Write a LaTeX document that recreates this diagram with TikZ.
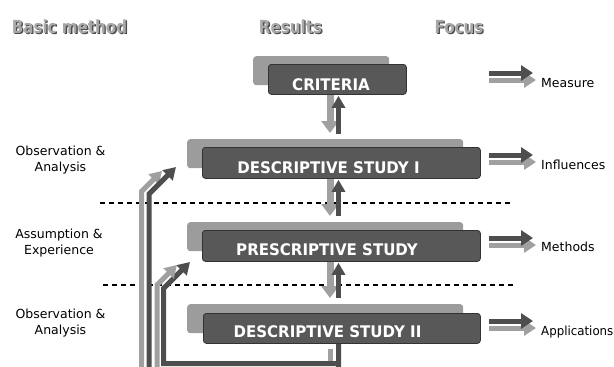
\documentclass[tikz,border=0pt]{standalone}
\usepackage{fontspec}
\setmainfont{DejaVu Sans}
\usetikzlibrary{arrows.meta,calc}
\definecolor{boxdark}{HTML}{585858}
\definecolor{boxlight}{HTML}{9C9C9C}
\definecolor{arrdark}{HTML}{4E4E4E}
\definecolor{arrlight}{HTML}{A0A0A0}
\definecolor{hdrgray}{HTML}{A8A8A8}
\definecolor{hdrshade}{HTML}{4A4A4A}
\begin{document}
\begin{tikzpicture}[x=1pt,y=-1pt,
  lightbox/.style={fill=boxlight, rounded corners=3pt, anchor=north west, inner sep=0pt},
  darkbox/.style={fill=boxdark, draw=black!80, line width=0.8pt, rounded corners=3pt, anchor=north west, inner sep=0pt},
  boxtext/.style={text=white, font=\fontsize{16}{18}\selectfont\bfseries, inner sep=0pt, anchor=base},
  hdr/.style={text=hdrgray, font=\fontsize{18}{20}\selectfont\bfseries, inner sep=0pt, anchor=base},
  hdrsh/.style={text=hdrshade, font=\fontsize{18}{20}\selectfont\bfseries, inner sep=0pt, anchor=base},
  sidelabel/.style={font=\fontsize{12.5}{16}\selectfont, align=center, inner sep=0pt, text=black},
  focuslabel/.style={font=\fontsize{12.5}{16}\selectfont, inner sep=0pt, anchor=base west, text=black},
  sep/.style={draw=black, line width=1.3pt, dash pattern=on 5pt off 4pt},
  downarr/.style={draw=arrlight, line width=7pt, -{Triangle[length=12pt,width=17pt]}},
  uparr/.style={draw=arrdark, line width=5.5pt, -{Triangle[length=12pt,width=13pt]}},
  lightline/.style={draw=arrlight, line width=5pt},
  darkline/.style={draw=arrdark, line width=5pt},
  lighthead/.style={lightline, -{Triangle[length=12pt,width=14pt]}},
  darkhead/.style={darkline, -{Triangle[length=12pt,width=14pt]}},
  focushead/.style={-{Triangle[length=12pt,width=15pt]}},
]
\useasboundingbox (0,0) rectangle (614,367);
\clip (0,0) rectangle (614,367);

% headers
\node[hdrsh] (h1s) at (70.8,34.3) {\scalebox{0.84}[1]{Basic method}};
\node[hdr] (h1) at (69.5,33) {\scalebox{0.84}[1]{Basic method}};
\node[hdrsh] (h2s) at (291.8,34.3) {\scalebox{0.84}[1]{Results}};
\node[hdr] (h2) at (290.5,33) {\scalebox{0.84}[1]{Results}};
\node[hdrsh] (h3s) at (460.3,34.3) {\scalebox{0.84}[1]{Focus}};
\node[hdr] (h3) at (459,33) {\scalebox{0.84}[1]{Focus}};

% dashed separators
\coordinate (s1a) at (100,203);
\coordinate (s1b) at (512,203);
\coordinate (s2a) at (103,285);
\coordinate (s2b) at (514,285);
\draw[sep] (s1a) -- (s1b);
\draw[sep] (s2a) -- (s2b);

% boxes
\node[lightbox, minimum width=136pt, minimum height=29pt] (critL) at (253,56) {};
\node[darkbox, minimum width=138pt, minimum height=30pt] (critD) at (268,64) {};
\node[lightbox, minimum width=276pt, minimum height=29pt] (ds1L) at (187,139) {};
\node[darkbox, minimum width=278pt, minimum height=31pt] (ds1D) at (202,147) {};
\node[lightbox, minimum width=276pt, minimum height=29pt] (psL) at (187,222) {};
\node[darkbox, minimum width=278pt, minimum height=31pt] (psD) at (202,230) {};
\node[lightbox, minimum width=276pt, minimum height=29pt] (ds2L) at (187,304) {};
\node[darkbox, minimum width=277pt, minimum height=30pt] (ds2D) at (203,313) {};

\node[boxtext] (critT) at (331,90) {\scalebox{0.94}[1]{CRITERIA}};
\node[boxtext] (ds1T) at (328.5,173) {\scalebox{0.94}[1]{DESCRIPTIVE STUDY I}};
\node[boxtext] (psT) at (327,255) {\scalebox{0.94}[1]{PRESCRIPTIVE STUDY}};
\node[boxtext] (ds2T) at (327.5,337) {\scalebox{0.94}[1]{DESCRIPTIVE STUDY II}};

% vertical arrows between results
\coordinate (xl) at (330,0);
\coordinate (xd) at (338.5,0);
\draw[downarr] (critD.south -| xl) -- ([yshift=6pt]ds1L.north -| xl);
\draw[uparr] ([yshift=5pt]ds1L.north -| xd) -- ([yshift=-1pt]critD.south -| xd);
\draw[downarr] (ds1D.south -| xl) -- ([yshift=6pt]psL.north -| xl);
\draw[uparr] ([yshift=6pt]psL.north -| xd) -- ([yshift=-1pt]ds1D.south -| xd);
\draw[downarr] (psD.south -| xl) -- ([yshift=6pt]ds2L.north -| xl);
\draw[uparr] ([yshift=6pt]ds2L.north -| xd) -- ([yshift=-1pt]psD.south -| xd);

% feedback lines on the left
\coordinate (o1) at (141.5,380);
\coordinate (o1t) at (162,171);
\coordinate (o2) at (149,380);
\coordinate (o2t) at (176,167);
\coordinate (i1) at (157,380);
\coordinate (i1t) at (177,265);
\coordinate (i2t) at (190,262);
\draw[lightline] ([yshift=-5pt]ds2D.south -| xl) -- (330,363);
\draw[darkhead] (ds2D.south -| xd) -- (338.5,363.5) -- (163.5,363.5) -- (163.5,288.5) -- (i2t);
\draw[lighthead] (i1) -- (157,285) -- (i1t);
\draw[lighthead] (o1) -- (141.5,191.5) -- (o1t);
\draw[darkhead] (o2) -- (149,194) -- (o2t);
\draw[darkline] (338.5,360) -- (338.5,380);

% left labels
\node[sidelabel] (b1) at (60.5,159.7) {Observation \&\\Analysis};
\node[sidelabel] (b2) at (59,243) {Assumption \&\\Experience};
\node[sidelabel] (b3) at (60.5,322.7) {Observation \&\\Analysis};

% focus labels and arrows
\node[focuslabel] (f1) at (541,87) {Measure};
\node[focuslabel] (f2) at (541,169) {Influences};
\node[focuslabel] (f3) at (541,251) {Methods};
\node[focuslabel] (f4) at (541,335) {\scalebox{0.945}[1]{Applications}};
\foreach \n/\y in {1/73, 2/155, 3/238, 4/321}{
  \coordinate (fa\n) at (489,\y+7);
  \coordinate (fb\n) at (489,\y);
  \draw[lightline, focushead] (fa\n) -- ([xshift=-5pt]fa\n -| f\n.west);
  \draw[darkline, focushead] (fb\n) -- ([xshift=-8pt]fb\n -| f\n.west);
}
\end{tikzpicture}
\end{document}
